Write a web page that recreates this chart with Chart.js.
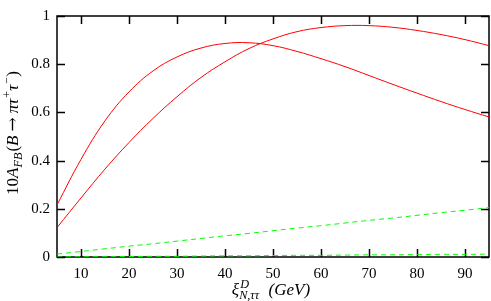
<!DOCTYPE html>
<html>
<head>
<meta charset="utf-8">
<script src="https://cdn.jsdelivr.net/npm/chart.js@4.4.1/dist/chart.umd.min.js"></script>
<style>
  html, body { margin: 0; padding: 0; background: #fff; }
</style>
</head>
<body>
<canvas id="chart" width="491" height="301"></canvas>
<script>
// values
const xValues = [5, 10, 15, 20, 25, 30, 35, 40, 45, 50, 55, 60, 65, 70, 75, 80, 85, 90, 95];
const redUpper = [0.216, 0.405, 0.565, 0.685, 0.772, 0.83, 0.867, 0.886, 0.889, 0.877, 0.853, 0.823, 0.79, 0.753, 0.716, 0.68, 0.645, 0.612, 0.581];
const redLower = [0.122, 0.245, 0.365, 0.475, 0.575, 0.665, 0.745, 0.81, 0.865, 0.905, 0.935, 0.952, 0.96, 0.96, 0.953, 0.94, 0.923, 0.902, 0.877];
const greenUpper = [0.012, 0.023, 0.034, 0.045, 0.055, 0.066, 0.077, 0.088, 0.098, 0.109, 0.12, 0.13, 0.141, 0.152, 0.162, 0.173, 0.184, 0.194, 0.205];
const greenLower = [0, 0.001, 0.001, 0.002, 0.003, 0.003, 0.004, 0.005, 0.005, 0.006, 0.007, 0.007, 0.008, 0.009, 0.009, 0.01, 0.011, 0.011, 0.012];

const xTicks = [10, 20, 30, 40, 50, 60, 70, 80, 90];
const yTicks = [0, 0.2, 0.4, 0.6, 0.8, 1];
const yTickLabels = ["0", "0.2", "0.4", "0.6", "0.8", "1"];

const FONT = "'Liberation Serif', 'Times New Roman', serif";
const ARROW_FONT = "'DejaVu Serif', serif";

const toPoints = (vals) => vals.map((v, i) => ({ x: xValues[i], y: v }));

// draw text with italic parts and sub/superscripts
function drawRich(ctx, parts, x, y, size) {
  const fontOf = (it, s, fam) => `${it ? "italic " : ""}${s}px ${fam || FONT}`;
  const small = size * 0.72;
  const measure = (t, it, s, fam) => {
    ctx.font = fontOf(it, s, fam);
    return ctx.measureText(t).width;
  };
  const widths = parts.map((p) => {
    const w = measure(p.t, p.it, size, p.f) + (p.pad || 0) * 2;
    const ws = p.sup ? measure(p.sup.t, p.sup.it, small) + 1 : 0;
    const wb = p.sub ? measure(p.sub.t, p.sub.it, small) + 1 : 0;
    return { w, extra: Math.max(ws, wb) };
  });
  const total = widths.reduce((a, b) => a + b.w + b.extra, 0);
  let cx = x - total / 2;
  ctx.textAlign = "left";
  ctx.textBaseline = "alphabetic";
  ctx.fillStyle = "#000";
  parts.forEach((p, i) => {
    ctx.font = fontOf(p.it, p.fs || size, p.f);
    ctx.fillText(p.t, cx + (p.pad || 0), y);
    cx += widths[i].w;
    if (p.sup) {
      ctx.font = fontOf(p.sup.it, small);
      ctx.fillText(p.sup.t, cx + 1, y - size * 0.42);
    }
    if (p.sub) {
      ctx.font = fontOf(p.sub.it, small);
      ctx.fillText(p.sub.t, cx, y + size * 0.25);
    }
    cx += widths[i].extra;
  });
}

const xTitle = [
  { t: "ξ", it: true, sup: { t: "D", it: true }, sub: { t: "N,ττ", it: true } },
  { t: "\u2002(GeV)", it: true },
];
const yTitle = [
  { t: "10", it: false },
  { t: "A", it: true, sub: { t: "FB", it: true } },
  { t: "(", it: false },
  { t: "B", it: true },
  { t: "→", it: false, f: ARROW_FONT, pad: 4 },
  { t: "π", it: true },
  { t: "τ", it: true, sup: { t: "+", it: false } },
  { t: "τ", it: true, sup: { t: "−", it: false } },
  { t: ")", it: false },
];

// frame + inward ticks on all four sides, drawn under the lines
const framePlugin = {
  id: "frame",
  beforeDatasetsDraw(chart) {
    const { ctx, chartArea: a, scales } = chart;
    const len = 8;
    ctx.save();
    ctx.strokeStyle = "#000";
    ctx.lineWidth = 1.5;
    ctx.beginPath();
    xTicks.forEach((v) => {
      const px = Math.round(scales.x.getPixelForValue(v)) + 0.5;
      ctx.moveTo(px, a.bottom);
      ctx.lineTo(px, a.bottom - len);
      ctx.moveTo(px, a.top);
      ctx.lineTo(px, a.top + len);
    });
    yTicks.forEach((v) => {
      const py = Math.round(scales.y.getPixelForValue(v)) + 0.5;
      ctx.moveTo(a.left, py);
      ctx.lineTo(a.left + len, py);
      ctx.moveTo(a.right, py);
      ctx.lineTo(a.right - len, py);
    });
    ctx.stroke();
    ctx.strokeRect(a.left, a.top, a.right - a.left, a.bottom - a.top);
    ctx.restore();
  },
  afterDraw(chart) {
    const { ctx } = chart;
    ctx.save();
    drawRich(ctx, xTitle, 271, 295, 17);
    ctx.translate(18, 133);
    ctx.rotate(-Math.PI / 2);
    drawRich(ctx, yTitle, 0, 0, 17);
    ctx.restore();
  },
};

const lineStyle = (color, dashed) => ({
  borderColor: color,
  borderWidth: 1,
  borderDash: dashed ? [5, 4] : [],
  pointRadius: 0,
  fill: false,
  tension: 0.4,
});

new Chart(document.getElementById("chart"), {
  type: "line",
  data: {
    datasets: [
      { data: toPoints(greenLower), ...lineStyle("#00ff00", true) },
      { data: toPoints(greenUpper), ...lineStyle("#00ff00", true) },
      { data: toPoints(redUpper), ...lineStyle("#ff0000", false) },
      { data: toPoints(redLower), ...lineStyle("#ff0000", false) },
    ],
  },
  options: {
    responsive: false,
    animation: false,
    devicePixelRatio: 1,
    layout: { padding: { top: 8, right: 2, left: 0, bottom: 0 } },
    plugins: { legend: { display: false }, tooltip: { enabled: false } },
    scales: {
      x: {
        type: "linear",
        min: 5,
        max: 95,
        afterBuildTicks: (s) => { s.ticks = xTicks.map((v) => ({ value: v })); },
        afterFit: (s) => { s.height = 44; },
        grid: { display: false, drawTicks: false },
        border: { display: false },
        ticks: { padding: 8, color: "#000", font: { family: FONT, size: 15 }, maxRotation: 0 },
      },
      y: {
        type: "linear",
        min: 0,
        max: 1,
        afterBuildTicks: (s) => { s.ticks = yTicks.map((v) => ({ value: v })); },
        afterFit: (s) => { s.width = 57; },
        grid: { display: false, drawTicks: false },
        border: { display: false },
        ticks: {
          padding: 7,
          color: "#000",
          font: { family: FONT, size: 15 },
          callback: (v, i) => yTickLabels[i],
        },
      },
    },
  },
  plugins: [framePlugin],
});
</script>
</body>
</html>
